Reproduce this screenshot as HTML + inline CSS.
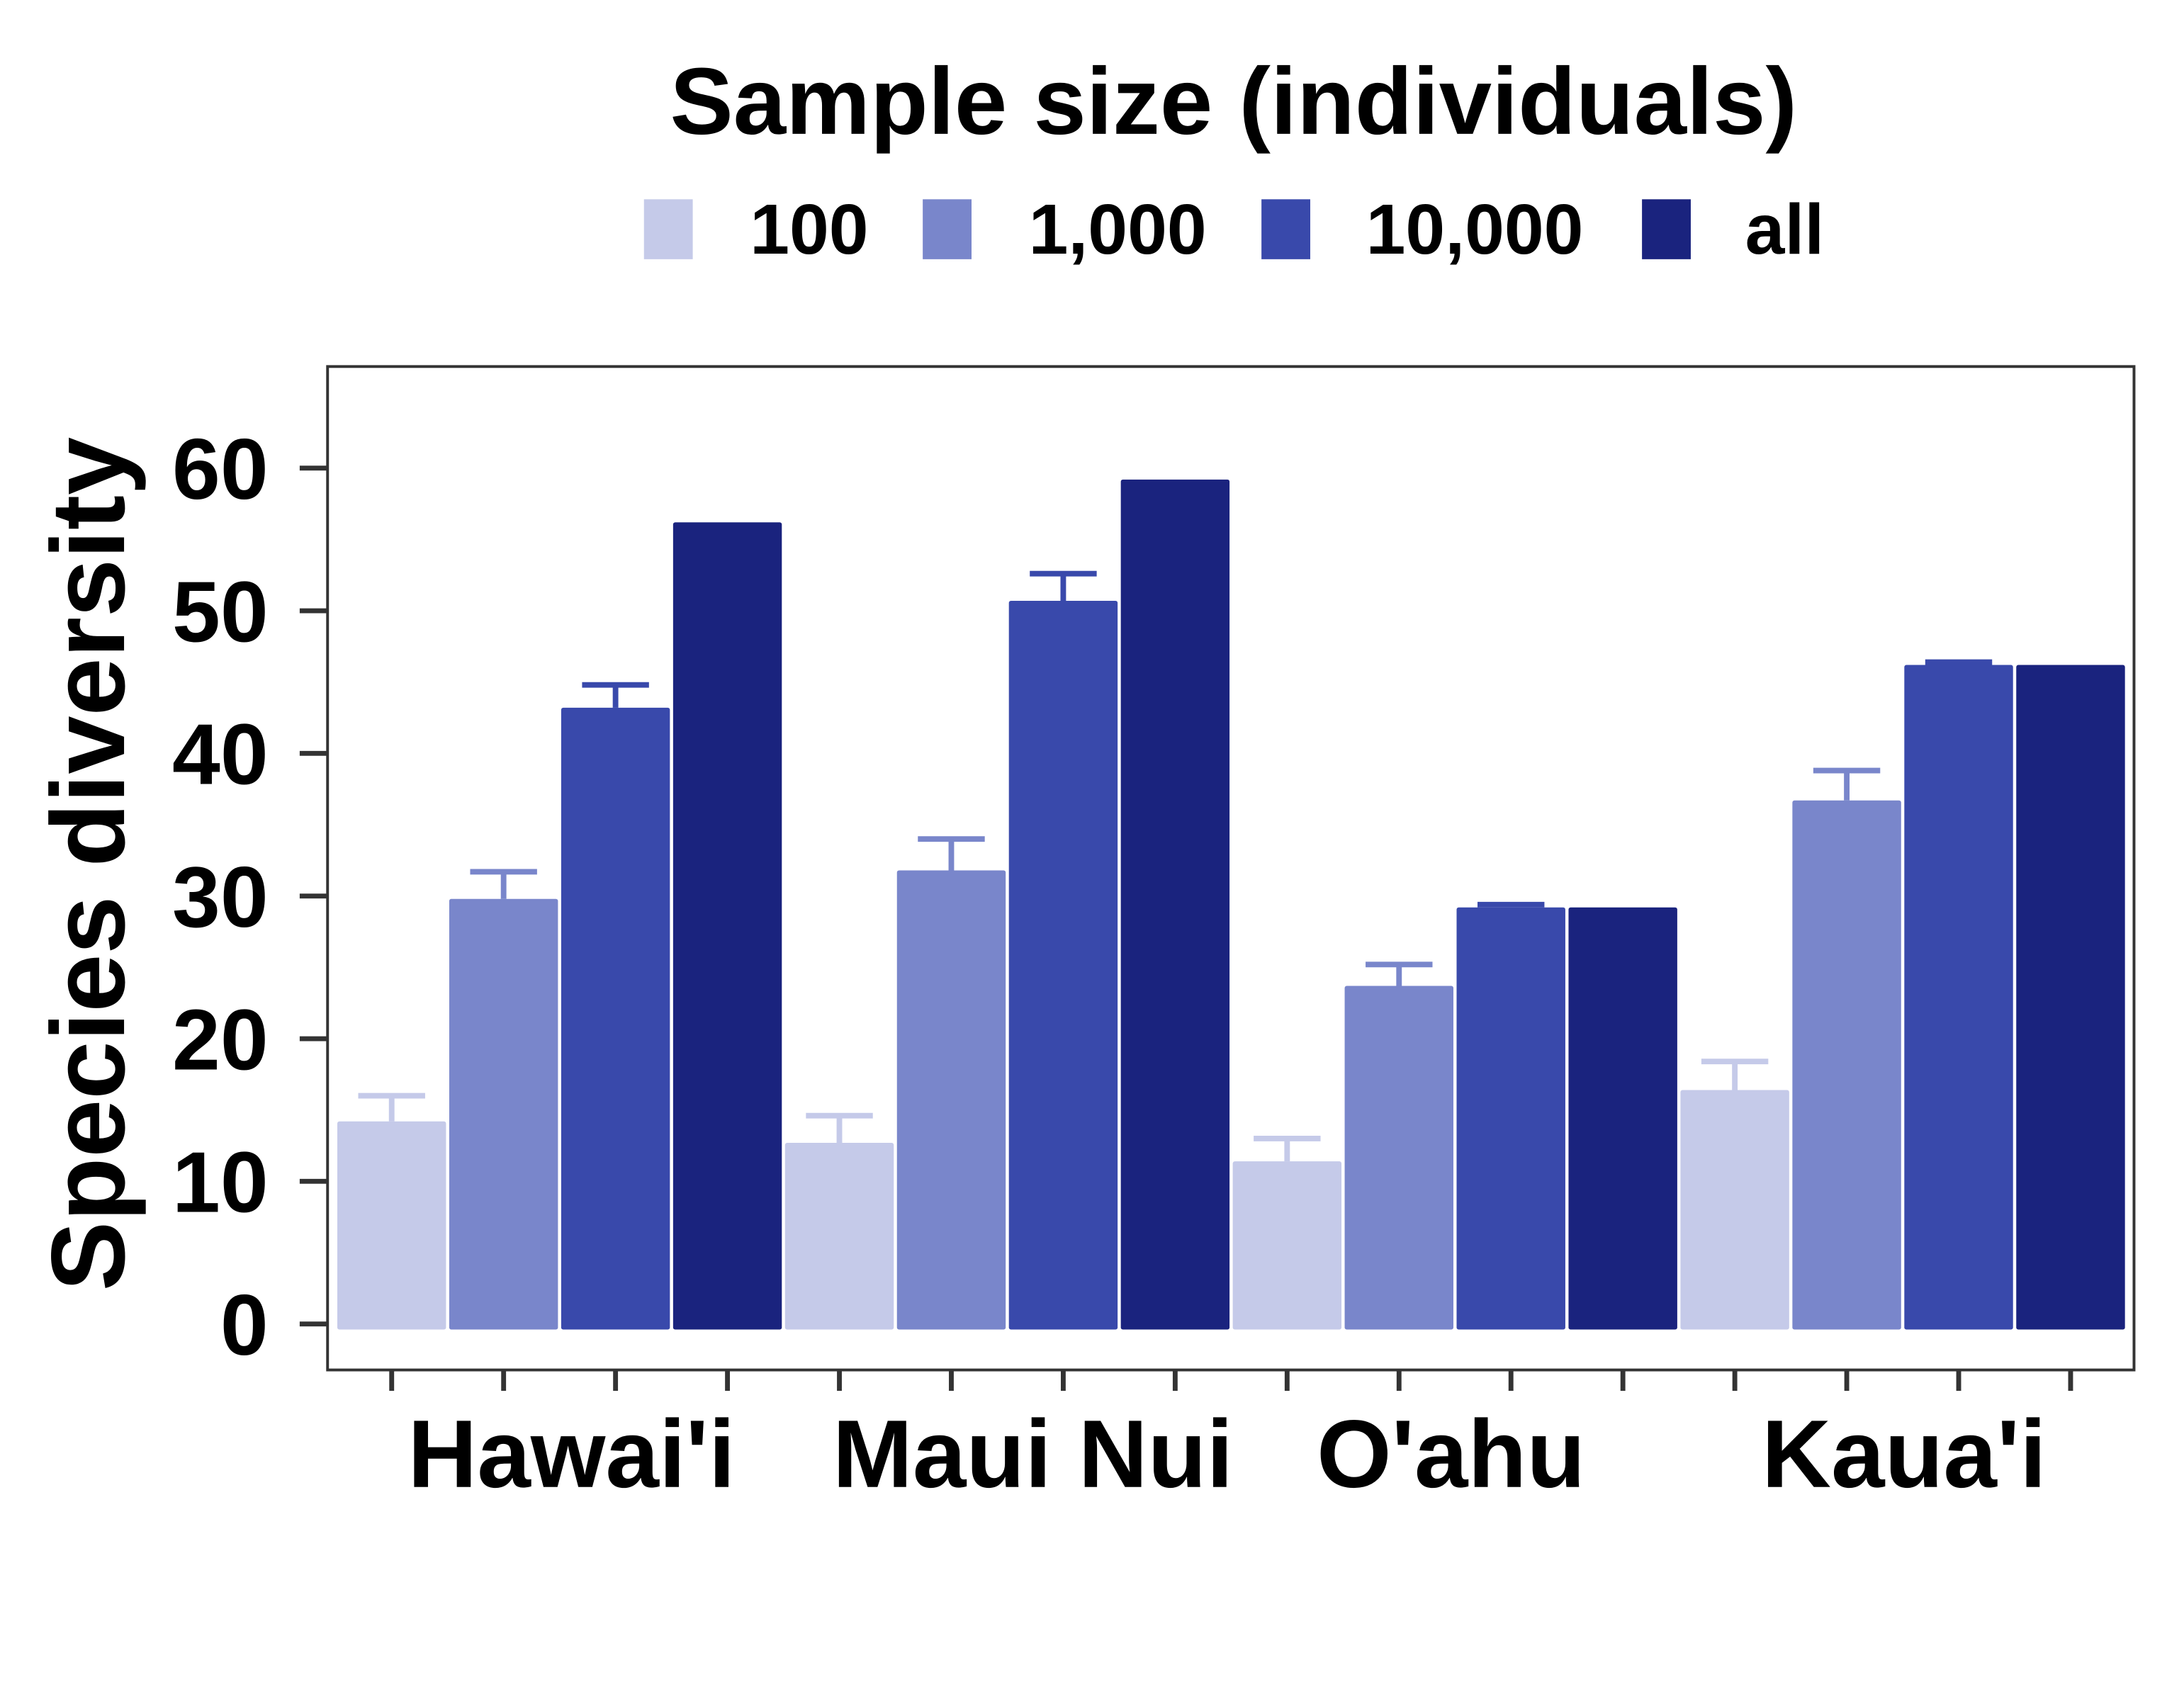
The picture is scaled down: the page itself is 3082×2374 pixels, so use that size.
<!DOCTYPE html>
<html><head><meta charset="utf-8"><style>
html,body{margin:0;padding:0;background:#fff;}
svg{display:block;font-family:"Liberation Sans",Arial,sans-serif;font-weight:bold;}
</style></head><body>
<svg id="chart" width="3082" height="2374" viewBox="0 0 3082 2374" xmlns="http://www.w3.org/2000/svg">
<rect x="0" y="0" width="3082" height="2374" fill="#fff"/>
<g transform="scale(0.9835)">
<text x="1770" y="192" font-size="136" text-anchor="middle">Sample size (individuals)</text>
<g id="legend"></g>
<rect x="470" y="526" width="2592" height="1440" fill="#fff" stroke="#333" stroke-width="4"/>
<g id="marks"></g>
<g id="axes"></g>
<text transform="translate(178,1240) rotate(-90)" font-size="150" text-anchor="middle">Species diversity</text>
</g>
</svg>
<script>
const islands = ["Hawai'i","Maui Nui","O'ahu","Kaua'i"];
const sizes = ["100","1,000","10,000","all"];
const colors = ["#c5cae9","#7986cb","#3949ab","#1a237e"];
const means100 = [14.2,12.7,11.4,16.4];
const means1000 = [29.8,31.8,23.7,36.7];
const means10000 = [43.2,50.7,29.2,46.2];
const meansAll = [56.2,59.2,29.2,46.2];
const err100 = [16.0,14.6,13.0,18.4];
const err1000 = [31.7,34.0,25.2,38.8];
const err10000 = [44.8,52.6,29.4,46.4];
const yTicks = [0,10,20,30,40,50,60];
const labelCenters = [820,1482,2082,2732];

const NS="http://www.w3.org/2000/svg";
const y0=1900, pxPerUnit=20.47;
const yScale=v=>y0-v*pxPerUnit;
const barX=(g,s)=>562+(g*4+s)*160.6;
const bw=156;
function mk(tag,attrs,parent){const e=document.createElementNS(NS,tag);for(const k in attrs)e.setAttribute(k,attrs[k]);parent.appendChild(e);return e;}
const marks=document.getElementById('marks'), axes=document.getElementById('axes'), legend=document.getElementById('legend');
const series=[means100,means1000,means10000,meansAll];
const errs=[err100,err1000,err10000,null];
for(let s=0;s<4;s++){
  for(let g=0;g<4;g++){
    const cx=barX(g,s), v=series[s][g];
    if(errs[s]){
      const e=errs[s][g];
      const el=mk('path',{d:`M${cx},${yScale(v)} V${yScale(e)} M${cx-48},${yScale(e)} H${cx+48}`,stroke:colors[s],'stroke-width':8,fill:'none'},marks);
      
      
    }
    const r=mk('rect',{x:cx-bw/2,y:yScale(v),width:bw,height:y0-yScale(v)+8,fill:colors[s],rx:3},marks);
    
    
    const t=mk('line',{x1:cx,x2:cx,y1:1966,y2:1996,stroke:'#333','stroke-width':7},axes);
    
    
  }
}
yTicks.forEach(v=>{
  const t=mk('line',{x1:430,x2:470,y1:yScale(v),y2:yScale(v),stroke:'#333','stroke-width':7},axes);
  
  
  const l=mk('text',{x:385,y:yScale(v)+44,'font-size':124,'text-anchor':'end'},axes);
  l.textContent=v;
  
  
});
islands.forEach((n,i)=>{
  const l=mk('text',{x:labelCenters[i],y:2134,'font-size':138,'text-anchor':'middle'},axes);
  l.textContent=n;
  
  
});
const keyX=[924,1324,1810,2356], labX=[1076,1476,1960,2504];
sizes.forEach((s,i)=>{
  const r=mk('rect',{x:keyX[i],y:286,width:70,height:86,fill:colors[i]},legend);
  
  
  const t=mk('text',{x:labX[i],y:364,'font-size':102},legend);
  t.textContent=s;
  
  
});
</script>
</body></html>
